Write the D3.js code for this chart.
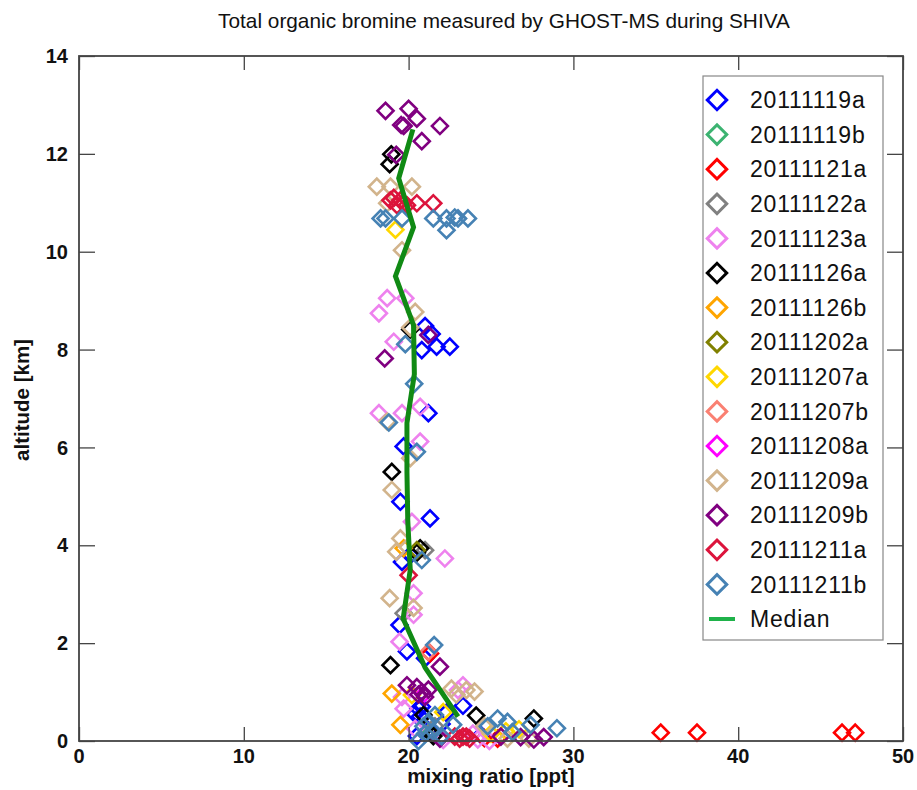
<!DOCTYPE html>
<html><head><meta charset="utf-8">
<script src="https://cdn.jsdelivr.net/npm/d3@7"></script>
<style>body{margin:0;background:#fff}svg{display:block}text{font-family:"Liberation Sans",Arial,Helvetica,sans-serif}</style>
</head><body><svg id="c" width="917" height="790"></svg>
<script>
// ---- data: [mixing ratio (ppt), altitude (km)] ----
const seriesNames = ["20111119a","20111119b","20111121a","20111122a","20111123a","20111126a","20111126b","20111202a","20111207a","20111207b","20111208a","20111209a","20111209b","20111211a","20111211b"];
const seriesColors = ["#0000ff","#3cb371","#ff0000","#808080","#ee82ee","#000000","#ffa500","#808000","#ffd700","#fa8072","#ff00ff","#d2b48c","#800080","#dc143c","#4682b4"];
const d20111119a = [[21.0,8.48],[21.4,8.32],[21.7,8.06],[22.5,8.06],[20.8,7.99],[21.2,6.70],[19.7,6.02],[19.5,4.89],[21.3,4.55],[19.6,3.66],[20.1,3.80],[19.45,2.37],[19.9,1.83],[21.0,1.69],[20.6,0.66],[20.7,0.50],[20.8,0.70],[23.3,0.72],[20.4,0.55],[21.2,0.22],[22.3,0.58],[20.5,0.10],[22.0,0.35],[24.4,0.12]];
const d20111119b = [[21.3,0.18]];
const d20111121a = [[35.3,0.17],[37.5,0.17],[46.3,0.17],[47.1,0.17],[21.3,1.79],[25.4,0.05],[24.6,0.06]];
const d20111122a = [[19.7,2.61],[21.0,3.90],[21.6,0.30]];
const d20111123a = [[18.7,9.05],[19.8,9.05],[18.2,8.74],[19.1,8.16],[18.2,6.70],[19.6,6.70],[20.7,6.83],[20.7,6.12],[20.2,4.48],[22.2,3.73],[20.3,3.02],[20.3,2.58],[19.45,2.03],[19.6,0.90],[19.7,0.66],[23.0,1.04],[23.3,1.14],[22.1,0.02],[24.2,0.03],[20.4,0.25],[24.9,0.00],[23.9,0.15]];
const d20111126a = [[18.95,11.99],[18.85,11.79],[20.1,8.41],[18.98,5.50],[20.7,3.94],[20.5,3.85],[18.9,1.55],[20.9,0.53],[24.1,0.52],[27.6,0.46],[21.5,0.10]];
const d20111126b = [[19.7,3.94],[18.98,0.97],[19.5,0.33]];
const d20111202a = [[20.5,3.90]];
const d20111207a = [[19.2,10.45],[26.7,0.24],[25.9,0.20],[22.1,0.59],[20.2,0.94],[25.0,0.15]];
const d20111207b = [[21.2,1.82]];
const d20111208a = [[20.9,0.95]];
const d20111209a = [[18.07,11.33],[18.9,11.33],[20.2,11.33],[18.7,10.99],[19.6,10.03],[20.4,8.77],[20.1,8.45],[18.7,6.53],[20.1,5.78],[18.98,5.13],[19.5,4.14],[19.25,3.87],[18.85,2.92],[20.3,2.72],[22.6,1.07],[23.5,1.04],[24.0,1.01],[22.9,0.95],[27.3,0.05],[24.6,0.30],[26.0,0.05]];
const d20111209b = [[18.6,12.88],[20.0,12.92],[20.5,12.72],[19.55,12.59],[19.7,12.57],[21.9,12.57],[20.8,12.26],[19.25,11.98],[21.2,8.30],[18.55,7.82],[21.9,1.52],[19.9,1.14],[20.5,1.10],[20.8,1.00],[21.0,0.90],[20.6,0.95],[21.2,1.05],[21.9,0.05],[25.6,0.09],[26.8,0.08],[28.2,0.08],[27.6,0.03]];
const d20111211a = [[18.9,11.05],[19.1,11.10],[19.3,10.95],[19.5,11.05],[19.7,11.00],[19.9,10.95],[20.5,10.99],[21.5,10.99],[20.0,3.39],[22.8,0.09],[23.1,0.05],[23.3,0.09],[23.5,0.09],[23.7,0.05]];
const d20111211b = [[18.3,10.68],[18.6,10.68],[19.6,10.68],[21.5,10.68],[22.3,10.68],[22.8,10.70],[23.0,10.68],[23.6,10.68],[22.3,10.44],[19.8,8.11],[20.34,7.30],[18.8,6.51],[20.5,5.91],[20.8,3.70],[21.55,1.96],[21.2,0.39],[21.6,0.53],[22.7,0.33],[20.6,0.00],[25.4,0.46],[26.0,0.39],[27.4,0.33],[29.0,0.26],[21.5,0.20],[22.0,0.10],[21.0,0.15],[24.8,0.30],[20.9,0.30],[26.3,0.18]];
const seriesData = [d20111119a,d20111119b,d20111121a,d20111122a,d20111123a,d20111126a,d20111126b,d20111202a,d20111207a,d20111207b,d20111208a,d20111209a,d20111209b,d20111211a,d20111211b];
const medianAlt = [12.5,11.5,10.5,9.5,8.5,7.5,6.5,5.5,4.5,3.5,2.5,1.5,0.5];
const medianVal = [20.26,19.4,20.3,19.2,20.3,20.35,19.9,19.9,19.95,20.1,19.67,21.0,23.0];
const xTicks = [0,10,20,30,40,50];
const yTicks = [0,2,4,6,8,10,12,14];
const titleText = "Total organic bromine measured by GHOST-MS during SHIVA";
const xLabel = "mixing ratio [ppt]";
const yLabel = "altitude [km]";

// ---- layout ----
const L = 79, R = 903, T = 56, B = 741;
const svg = d3.select("#c");
const x = d3.scaleLinear().domain([0,50]).range([L,R]);
const y = d3.scaleLinear().domain([0,14]).range([B,T]);
const axisCol = "#444";

// title
svg.append("text").attr("x",504).attr("y",28).attr("text-anchor","middle")
  .attr("font-size",20.8).attr("fill","#111").text(titleText);

// points
const diamond = d3.symbol().type(d3.symbolSquare).size(128);
seriesData.forEach((arr,i)=>{
  svg.append("g").selectAll("path").data(arr).join("path")
    .attr("d",diamond)
    .attr("transform",d=>`translate(${x(d[0])},${y(d[1])}) rotate(45)`)
    .attr("fill","none").attr("stroke",seriesColors[i]).attr("stroke-width",2.6);
});

// median
const med = medianAlt.map((a,i)=>[medianVal[i],a]);
svg.append("path").datum(med)
  .attr("d",d3.line().x(d=>x(d[0])).y(d=>y(d[1])))
  .attr("fill","none").attr("stroke","#108a14").attr("stroke-width",5).attr("stroke-linejoin","miter");

// axes (ticks inward, all four sides)
function ax(axisFn, scale, pos, major, minorStep, majLen, minLen){
  const g = svg.append("g").attr("transform",pos);
  const minor = d3.range(scale.domain()[0], scale.domain()[1]+1e-9, minorStep);
  g.call(axisFn(scale).tickValues(minor).tickSize(minLen).tickFormat(""));
  g.call(axisFn(scale).tickValues(major).tickSize(majLen).tickFormat(""));
  return g;
}
ax(d3.axisTop, x, `translate(0,${B})`, xTicks, 1, 14, 7);
ax(d3.axisBottom, x, `translate(0,${T})`, xTicks, 1, 14, 7);
ax(d3.axisRight, y, `translate(${L},0)`, yTicks, 0.5, 16, 8);
ax(d3.axisLeft, y, `translate(${R},0)`, yTicks, 0.5, 16, 8);
svg.selectAll(".domain").remove();
svg.selectAll(".tick line").attr("stroke",axisCol).attr("stroke-width",1.3);
svg.append("rect").attr("x",L).attr("y",T).attr("width",R-L).attr("height",B-T)
  .attr("fill","none").attr("stroke",axisCol).attr("stroke-width",1.8);

// tick labels
svg.append("g").selectAll("text").data(xTicks).join("text")
  .attr("x",d=>x(d)).attr("y",763).attr("text-anchor","middle")
  .attr("font-size",20).attr("font-weight","bold").attr("fill","#111").text(d=>d);
svg.append("g").selectAll("text").data(yTicks).join("text")
  .attr("x",68).attr("y",d=>y(d)).attr("dy","0.36em").attr("text-anchor","end")
  .attr("font-size",20).attr("font-weight","bold").attr("fill","#111").text(d=>d);

// axis titles
svg.append("text").attr("x",491).attr("y",783).attr("text-anchor","middle")
  .attr("font-size",20.5).attr("font-weight","bold").attr("fill","#111").text(xLabel);
svg.append("text").attr("transform","translate(29,400) rotate(-90)").attr("text-anchor","middle")
  .attr("font-size",20.5).attr("font-weight","bold").attr("fill","#111").text(yLabel);

// legend
const lg = svg.append("g");
lg.append("rect").attr("x",703).attr("y",76).attr("width",180).attr("height",564)
  .attr("fill","#fff").attr("stroke","#888").attr("stroke-width",1.2);
const ly = i => 100 + i*34.6;
const legDiamond = d3.symbol().type(d3.symbolSquare).size(190);
seriesNames.forEach((n,i)=>{
  lg.append("path").attr("d",legDiamond).attr("transform",`translate(717,${ly(i)}) rotate(45)`)
    .attr("fill","none").attr("stroke",seriesColors[i]).attr("stroke-width",3);
  lg.append("text").attr("x",750).attr("y",ly(i)).attr("dy","0.36em")
    .attr("font-size",23).attr("fill","#111").attr("letter-spacing",0.8).text(n);
});
lg.append("line").attr("x1",709).attr("x2",735).attr("y1",ly(15)).attr("y2",ly(15))
  .attr("stroke","#1fb24a").attr("stroke-width",4);
lg.append("text").attr("x",750).attr("y",ly(15)).attr("dy","0.36em")
  .attr("font-size",23).attr("fill","#111").attr("letter-spacing",0.8).text("Median");
</script></body></html>
